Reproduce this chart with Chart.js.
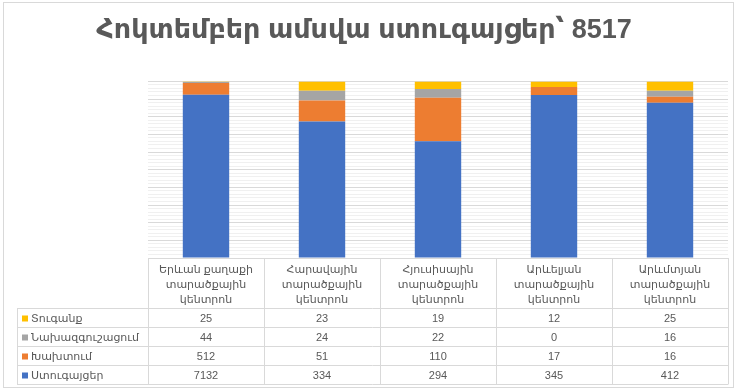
<!DOCTYPE html>
<html lang="hy">
<head>
    <meta charset="UTF-8">
    <title>Հոկտեմբեր ամսվա ստուգայցեր</title>
    <script src="https://cdn.jsdelivr.net/npm/chart.js"></script>
    <style>
        html, body { margin: 0; padding: 0; background: #fff; }
        #wrap { width: 737px; height: 390px; }
    </style>
</head>
<body>
<div id="wrap"><canvas id="chart" width="737" height="390"></canvas></div>
<script>
    const centers = [
        ['Երևան քաղաքի', 'տարածքային', 'կենտրոն'],
        ['Հարավային', 'տարածքային', 'կենտրոն'],
        ['Հյուսիսային', 'տարածքային', 'կենտրոն'],
        ['Արևելյան', 'տարածքային', 'կենտրոն'],
        ['Արևմտյան', 'տարածքային', 'կենտրոն']
    ];
    const inspections = [7132, 334, 294, 345, 412];
    const violations = [512, 51, 110, 17, 16];
    const warnings = [44, 24, 22, 0, 16];
    const fines = [25, 23, 19, 12, 25];

    const titleText = 'Հոկտեմբեր ամսվա ստուգայցեր՝ 8517';
    const textColor = '#595959';
    const lineColor = '#d9d9d9';
    const fontFamily = '"Liberation Sans", "DejaVu Sans", "Noto Sans", sans-serif';

    // bottom of the stack first
    const series = [
        { name: 'Ստուգայցեր', values: inspections, color: '#4472C4' },
        { name: 'Խախտում', values: violations, color: '#ED7D31' },
        { name: 'Նախազգուշացում', values: warnings, color: '#A5A5A5' },
        { name: 'Տուգանք', values: fines, color: '#FFC000' }
    ];

    // 100% stacked: each column as share of its total
    const totals = centers.map((_, i) => series.reduce((s, d) => s + d.values[i], 0));

    const datasets = series.map(s => ({
        label: s.name,
        data: s.values.map((v, i) => v / totals[i] * 100),
        backgroundColor: s.color,
        borderWidth: 0,
        categoryPercentage: 1,
        barPercentage: 0.4
    }));

    // data table under the axis, rows in reverse order like the source
    const tablePlugin = {
        id: 'dataTable',
        beforeDraw(chart) {
            const ctx = chart.ctx;
            ctx.save();
            ctx.fillStyle = '#fff';
            ctx.fillRect(0, 0, chart.width, chart.height);
            ctx.strokeStyle = lineColor;
            ctx.lineWidth = 1;
            ctx.strokeRect(3.5, 2.5, chart.width - 7, chart.height - 5);
            ctx.restore();
        },
        afterDraw(chart) {
            const ctx = chart.ctx;
            const area = chart.chartArea;
            const xs = chart.scales.x;
            const top = Math.round(xs.bottom);
            const rowH = 19;
            const legendLeft = 17;
            const rows = series.slice().reverse();
            const bottom = top + rows.length * rowH;
            const colW = (area.right - area.left) / centers.length;

            ctx.save();
            ctx.strokeStyle = lineColor;
            ctx.lineWidth = 1;
            ctx.beginPath();
            for (let r = 0; r <= rows.length; r++) {
                const y = top + r * rowH + 0.5;
                ctx.moveTo(legendLeft, y);
                ctx.lineTo(area.right, y);
            }
            for (let c = 0; c <= centers.length; c++) {
                const x = Math.round(area.left + c * colW) + 0.5;
                ctx.moveTo(x, Math.round(area.bottom));
                ctx.lineTo(x, bottom + 0.5);
            }
            ctx.moveTo(legendLeft + 0.5, top);
            ctx.lineTo(legendLeft + 0.5, bottom + 0.5);
            ctx.stroke();

            ctx.font = '11px ' + fontFamily;
            ctx.textBaseline = 'middle';
            rows.forEach((s, r) => {
                const y = top + r * rowH + rowH / 2 + 1;
                ctx.fillStyle = s.color;
                ctx.fillRect(legendLeft + 5, y - 3, 6, 6);
                ctx.fillStyle = textColor;
                ctx.textAlign = 'left';
                ctx.fillText(s.name, legendLeft + 14, y);
                ctx.textAlign = 'center';
                s.values.forEach((v, i) => {
                    ctx.fillText(String(v), xs.getPixelForValue(i), y);
                });
            });
            ctx.restore();
        }
    };

    new Chart(document.getElementById('chart'), {
        type: 'bar',
        data: { labels: centers, datasets: datasets },
        options: {
            responsive: false,
            animation: false,
            layout: { padding: { left: 0, right: 9, top: 0, bottom: 82 } },
            plugins: {
                legend: { display: false },
                tooltip: { enabled: false },
                title: {
                    display: true,
                    text: titleText,
                    color: textColor,
                    font: { family: fontFamily, size: 27, weight: 'bold' },
                    padding: { top: 14, bottom: 35 }
                }
            },
            scales: {
                x: {
                    stacked: true,
                    grid: { display: false, drawTicks: false },
                    border: { display: false },
                    ticks: {
                        color: textColor,
                        font: { family: fontFamily, size: 11, lineHeight: '15px' },
                        maxRotation: 0,
                        autoSkip: false,
                        padding: 4
                    },
                    afterFit: s => { s.height = 50; }
                },
                y: {
                    stacked: true,
                    min: 0,
                    max: 100,
                    ticks: { display: false, stepSize: 2 },
                    grid: {
                        drawTicks: false,
                        color: c => (Math.round(c.tick.value) % 10 === 0 ? lineColor : '#f0f0f0')
                    },
                    border: { display: false },
                    afterFit: s => { s.width = 148; }
                }
            }
        },
        plugins: [tablePlugin]
    });
</script>
</body>
</html>
